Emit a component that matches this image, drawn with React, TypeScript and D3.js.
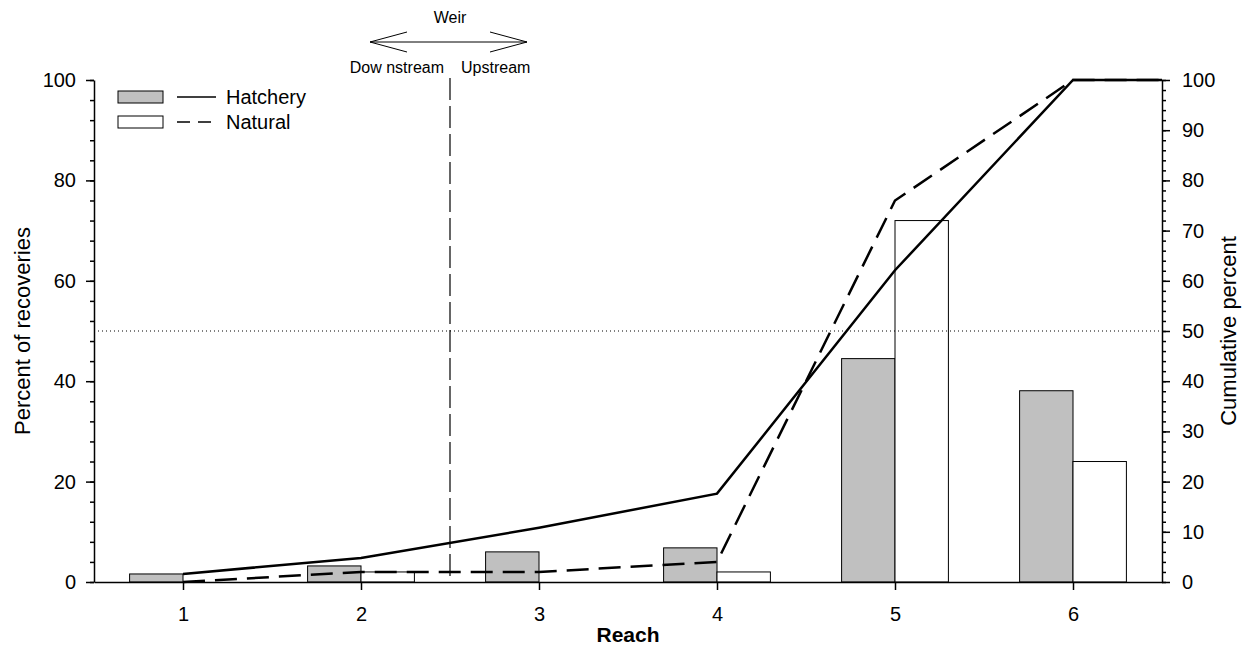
import React, { useEffect, useRef } from 'react';
import * as d3 from 'd3';

const reaches = [1, 2, 3, 4, 5, 6];
const hatcheryPct = [1.6, 3.2, 6.0, 6.8, 44.5, 38.1];
const naturalPct = [0, 2.0, 0, 2.0, 72, 24];
// cumulative percent (last point extends to the right edge)
const hatcheryCumX = [1, 2, 3, 4, 5, 6, 6.5];
const hatcheryCum = [1.6, 4.8, 10.8, 17.6, 62.1, 100, 100];
const naturalCumX = [1, 2, 3, 4, 5, 6, 6.5];
const naturalCum = [0, 2, 2, 4, 76, 100, 100];
const leftTicks = [0, 20, 40, 60, 80, 100];
const rightTicks = [0, 10, 20, 30, 40, 50, 60, 70, 80, 90, 100];
const weirAt = 2.5;
const halfLine = 50;

export default function App() {
  const ref = useRef<SVGSVGElement>(null);

  useEffect(() => {
    const svg = d3.select(ref.current);
    svg.selectAll('*').remove();
    const font = 'Liberation Sans, Arial, sans-serif';

    const left = 94, right = 1162, top = 80, bottom = 582;
    const x = d3.scaleLinear().domain([0.5, 6.5]).range([left, right]);
    const y = d3.scaleLinear().domain([0, 100]).range([bottom, top]);
    const y2 = d3.scaleLinear().domain([0, 100]).range([bottom, top]);
    const bw = x(1.3) - x(1);

    // bars
    svg.append('g').selectAll('rect').data(reaches).enter().append('rect')
      .attr('x', (d) => x(d) - bw).attr('width', bw)
      .attr('y', (_, i) => y(hatcheryPct[i]))
      .attr('height', (_, i) => y(0) - y(hatcheryPct[i]))
      .attr('fill', '#c0c0c0').attr('stroke', '#000').attr('stroke-width', 1);
    svg.append('g').selectAll('rect').data(reaches).enter().append('rect')
      .attr('x', (d) => x(d)).attr('width', bw)
      .attr('y', (_, i) => y(naturalPct[i]))
      .attr('height', (_, i) => y(0) - y(naturalPct[i]))
      .attr('fill', '#fff').attr('stroke', '#000').attr('stroke-width', 1);

    // reference lines
    svg.append('line').attr('x1', left).attr('x2', right)
      .attr('y1', y(halfLine)).attr('y2', y(halfLine))
      .attr('stroke', '#000').attr('stroke-dasharray', '1,3');
    svg.append('line').attr('x1', x(weirAt)).attr('x2', x(weirAt))
      .attr('y1', 78).attr('y2', bottom)
      .attr('stroke', '#000').attr('stroke-width', 1.2).attr('stroke-dasharray', '22,6');

    // cumulative lines
    const line = d3.line<number>().x((d) => x(d[0])).y((d) => y2(d[1]));
    svg.append('path')
      .attr('d', line(hatcheryCumX.map((v, i) => [v, hatcheryCum[i]]) as any))
      .attr('fill', 'none').attr('stroke', '#000').attr('stroke-width', 2.5);
    svg.append('path')
      .attr('d', line(naturalCumX.map((v, i) => [v, naturalCum[i]]) as any))
      .attr('fill', 'none').attr('stroke', '#000').attr('stroke-width', 2.5)
      .attr('stroke-dasharray', '22,10');

    // axes
    const axL = svg.append('g').attr('transform', `translate(${left},0)`)
      .call(d3.axisLeft(y).tickValues(d3.range(0, 101, 4)).tickSize(4).tickFormat(() => ''));
    axL.selectAll('.domain').remove();
    const axL2 = svg.append('g').attr('transform', `translate(${left},0)`)
      .call(d3.axisLeft(y).tickValues(leftTicks).tickSize(8).tickPadding(10).tickSizeOuter(0));
    const axR = svg.append('g').attr('transform', `translate(${right},0)`)
      .call(d3.axisRight(y2).tickValues(d3.range(0, 101, 2)).tickSize(4).tickFormat(() => ''));
    axR.selectAll('.domain').remove();
    const axR2 = svg.append('g').attr('transform', `translate(${right},0)`)
      .call(d3.axisRight(y2).tickValues(rightTicks).tickSize(8).tickPadding(12).tickSizeOuter(0));
    const axB = svg.append('g').attr('transform', `translate(0,${bottom})`)
      .call(d3.axisBottom(x).tickValues(reaches).tickFormat(d3.format('d')).tickSize(8).tickPadding(17).tickSizeOuter(0));
    [axL, axL2, axR, axR2, axB].forEach((g) => {
      g.selectAll('path, line').attr('stroke', '#000').attr('stroke-width', 1.5);
      g.selectAll('text').attr('font-family', font).attr('font-size', 20).attr('fill', '#000');
    });

    // axis titles
    svg.append('text').attr('transform', `translate(30,${(top + bottom) / 2}) rotate(-90)`)
      .attr('text-anchor', 'middle').attr('font-family', font).attr('font-size', 22)
      .text('Percent of recoveries');
    svg.append('text').attr('transform', `translate(1236,${(top + bottom) / 2}) rotate(-90)`)
      .attr('text-anchor', 'middle').attr('font-family', font).attr('font-size', 22)
      .text('Cumulative percent');
    svg.append('text').attr('x', (left + right) / 2).attr('y', 642)
      .attr('text-anchor', 'middle').attr('font-family', font).attr('font-size', 21)
      .attr('font-weight', 'bold').text('Reach');

    // weir annotation
    const ax0 = 370, ax1 = 527, ay = 42;
    const ann = svg.append('g').attr('stroke', '#000').attr('stroke-width', 1).attr('fill', 'none');
    ann.append('line').attr('x1', ax0).attr('x2', ax1).attr('y1', ay).attr('y2', ay);
    ann.append('path').attr('d', `M${ax0 + 37},${ay - 10}L${ax0},${ay}L${ax0 + 37},${ay + 10}`);
    ann.append('path').attr('d', `M${ax1 - 37},${ay - 10}L${ax1},${ay}L${ax1 - 37},${ay + 10}`);
    svg.append('text').attr('x', x(weirAt)).attr('y', 23).attr('text-anchor', 'middle')
      .attr('font-family', font).attr('font-size', 16).text('Weir');
    svg.append('text').attr('x', 444).attr('y', 73).attr('text-anchor', 'end')
      .attr('font-family', font).attr('font-size', 16).text('Dow nstream');
    svg.append('text').attr('x', 461).attr('y', 73).attr('text-anchor', 'start')
      .attr('font-family', font).attr('font-size', 16).text('Upstream');

    // legend
    const leg = [
      { label: 'Hatchery', fill: '#c0c0c0', dash: null, yy: 97 },
      { label: 'Natural', fill: '#fff', dash: '13,8', yy: 122 },
    ];
    leg.forEach((l) => {
      svg.append('rect').attr('x', 118).attr('y', l.yy - 6).attr('width', 45).attr('height', 12)
        .attr('fill', l.fill).attr('stroke', '#000').attr('stroke-width', 1);
      svg.append('line').attr('x1', 177).attr('x2', 216).attr('y1', l.yy).attr('y2', l.yy)
        .attr('stroke', '#000').attr('stroke-width', 1.5)
        .attr('stroke-dasharray', l.dash as any);
      svg.append('text').attr('x', 226).attr('y', l.yy + 7).attr('font-family', font)
        .attr('font-size', 20).text(l.label);
    });
  }, []);

  return (
    <svg
      ref={ref}
      width={1251}
      height={646}
      style={{ position: 'absolute', left: 0, top: 0, display: 'block' }}
    />
  );
}
